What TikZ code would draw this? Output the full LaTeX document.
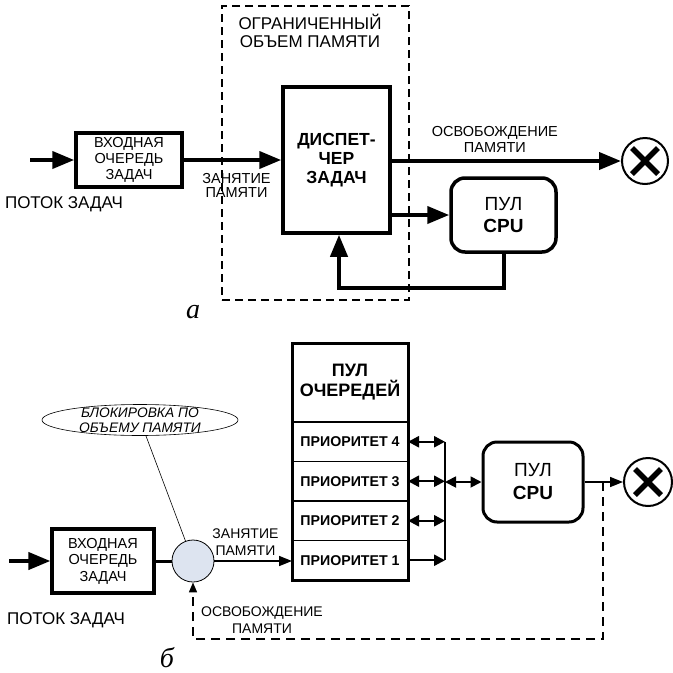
\documentclass[tikz,border=0pt]{standalone}
\usepackage{fontspec}
\setmainfont{Liberation Sans}
\newfontfamily\capserif{Liberation Serif}
\newcommand\fs[2]{\fontsize{#1}{#2}\selectfont}
\definecolor{GateFill}{HTML}{DDE4F0}
\usetikzlibrary{arrows.meta,positioning,shapes.geometric,fit}

\begin{document}
\begin{tikzpicture}[x=1pt,y=-1pt,
      block/.style={draw,line width=3.5pt,align=center,inner sep=0pt},
      pool/.style={block,rounded corners=14pt},
      stop/.style={draw,circle,line width=2pt,minimum size=46pt,inner sep=0pt},
      cut/.style={line width=5.5pt},
      heavy/.style={line width=4pt,-{Triangle[length=22pt,width=17pt]}},
      light/.style={line width=1.6pt,-{Triangle[length=13pt,width=10pt]}},
      both/.style={line width=2.4pt,{Triangle[length=11pt,width=11pt]}-{Triangle[length=11pt,width=11pt]}},
      oneway/.style={line width=2.4pt,-{Triangle[length=11pt,width=11pt]}},
      back/.style={line width=1.6pt,dash pattern=on 9pt off 6pt,-{Triangle[length=10pt,width=8pt]}},
      row/.style={draw,line width=1.8pt,minimum width=116pt,minimum height=39.5pt,align=center,
                  inner sep=0pt,outer sep=0pt,font=\fs{14.2}{15}\bfseries},
      txt/.style={align=center,inner sep=0pt}]
    \useasboundingbox (0,0) rectangle (673,673);
    % a
    \node[draw,line width=1.5pt,dash pattern=on 8pt off 5pt,minimum width=187pt,minimum height=294pt] (memA) at (315.5,153) {};
    \node[txt,font=\fs{17}{18.5}] (memlabA) at (310,31) {ОГРАНИЧЕННЫЙ\\ОБЪЕМ ПАМЯТИ};
    \node[block,minimum width=106pt,minimum height=54pt,font=\fs{14.5}{16}] (queueA) at (129,160) {ВХОДНАЯ\\ОЧЕРЕДЬ\\ЗАДАЧ};
    \node[block,minimum width=107pt,minimum height=146pt,font=\fs{17.5}{19}\bfseries] (dispA) at (336.5,160) {ДИСПЕТ-\\ЧЕР\\ЗАДАЧ};
    \node[pool,minimum width=105pt,minimum height=74pt,font=\fs{19}{21.5}] (cpuA) at (503.5,215) {ПУЛ\\\textbf{CPU}};
    \node[stop] (exitA) at (645,161) {};
    \draw[cut] ([shift={(-13,-13)}]exitA.center) -- ([shift={(13,13)}]exitA.center);
    \draw[cut] ([shift={(-13,13)}]exitA.center) -- ([shift={(13,-13)}]exitA.center);
    \coordinate (inA) at (30,160);
    \draw[heavy] (inA) -- (queueA);
    \node[txt,font=\fs{17}{18}] (flowA) at (64,204) {ПОТОК ЗАДАЧ};
    \draw[heavy] (queueA) -- node[txt,below=11pt,font=\fs{14.5}{14.5},xshift=4pt] {ЗАНЯТИЕ\\ПАМЯТИ} (dispA);
    \draw[heavy] (dispA.east |- exitA) -- node[txt,above=7pt,pos=0.45,font=\fs{14.5}{16}] {ОСВОБОЖДЕНИЕ\\ПАМЯТИ} (exitA);
    \draw[heavy] (dispA.east |- cpuA) -- (cpuA);
    \coordinate (turnA) at (339,288);
    \draw[heavy] (cpuA.south) |- (turnA) -- (turnA |- dispA.south);
    \node[txt,font=\capserif\itshape\fs{28}{30}] (capA) at (193,312) {а};
    % b
    \node[ellipse,draw,line width=0.6pt,minimum width=196pt,minimum height=31pt,inner sep=0pt] (lockB) at (140,420) {};
    \node[txt,font=\itshape\fs{13.8}{15}] (locktxtB) at (lockB.center) {БЛОКИРОВКА ПО\\ОБЪЕМУ ПАМЯТИ};
    \node[block,line width=3.2pt,minimum width=102pt,minimum height=64pt,font=\fs{14.5}{16.5}] (queueB) at (103,561) {ВХОДНАЯ\\ОЧЕРЕДЬ\\ЗАДАЧ};
    \coordinate (inB) at (9,561);
    \draw[heavy] (inB) -- (queueB);
    \node[txt,font=\fs{17}{18}] (flowB) at (66,620) {ПОТОК ЗАДАЧ};
    \node[circle,draw,line width=0.8pt,fill=GateFill,minimum size=42pt,inner sep=0pt] (gateB) at (193,561) {};
    \draw[line width=3pt] (queueB) -- (gateB);
    \draw[line width=0.6pt] (lockB) -- (gateB);
    \node[row,minimum height=79pt,font=\fs{18}{20}\bfseries] (headB) at (350,382.5) {ПУЛ\\ОЧЕРЕДЕЙ};
    \node[row,below=0pt of headB] (prio4) {ПРИОРИТЕТ 4};
    \node[row,below=0pt of prio4] (prio3) {ПРИОРИТЕТ 3};
    \node[row,below=0pt of prio3] (prio2) {ПРИОРИТЕТ 2};
    \node[row,below=0pt of prio2] (prio1) {ПРИОРИТЕТ 1};
    \node[draw,line width=3pt,inner sep=0pt,fit=(headB)(prio1)] (poolB) {};
    \draw[light] (gateB) -- node[txt,above=5pt,pos=0.4,font=\fs{14}{16.5}] {ЗАНЯТИЕ\\ПАМЯТИ} (gateB -| prio1.west);
    \coordinate (busB) at (445,0);
    \draw[line width=2.4pt] (busB |- prio4) -- (busB |- prio1);
    \foreach \r in {4,3,2}
      \draw[both] (prio\r) -- (busB |- prio\r);
    \draw[oneway] (prio1) -- (busB |- prio1);
    \node[pool,line width=3pt,minimum width=100pt,minimum height=80pt,font=\fs{19}{23}] (cpuB) at (533,482) {ПУЛ\\\textbf{CPU}};
    \draw[both,line width=1.8pt] (busB |- cpuB) -- (cpuB);
    \node[stop,minimum size=48pt] (exitB) at (648,482) {};
    \draw[cut] ([shift={(-13,-13)}]exitB.center) -- ([shift={(13,13)}]exitB.center);
    \draw[cut] ([shift={(-13,13)}]exitB.center) -- ([shift={(13,-13)}]exitB.center);
    \draw[light] (cpuB) -- (exitB);
    \coordinate (tapB) at (603,482);
    \coordinate (lowB) at (193,639);
    \draw[back] (tapB) |- (lowB) -- (gateB);
    \node[txt,font=\fs{14}{16.5}] (relB) at (262,620) {ОСВОБОЖДЕНИЕ\\ПАМЯТИ};
    \node[txt,font=\capserif\itshape\fs{28}{30}] (capB) at (167,658) {б};
  \end{tikzpicture}
\end{document}
